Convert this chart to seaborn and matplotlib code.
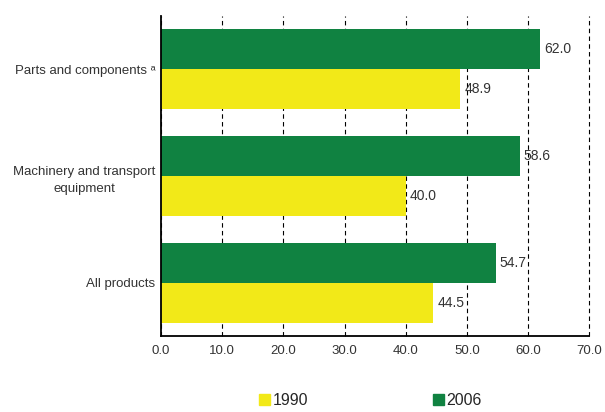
import pandas as pd
import numpy as np
import seaborn as sns
import matplotlib.pyplot as plt
from matplotlib.patches import Patch

# data
categories = ['Parts and components ᵃ', 'Machinery and transport\nequipment', 'All products']
vals_2006 = [62.0, 58.6, 54.7]
vals_1990 = [48.9, 40.0, 44.5]
years = ['2006', '1990']

df = pd.DataFrame({
    'Product': categories * 2,
    'Year': ['2006'] * 3 + ['1990'] * 3,
    'Share': vals_2006 + vals_1990,
})

sns.set_style('white')
plt.rcParams['font.family'] = ['Liberation Sans', 'DejaVu Sans']

fig, ax = plt.subplots(figsize=(6.05, 4.12), dpi=100)
fig.subplots_adjust(left=0.266, right=0.974, top=0.961, bottom=0.184)

pal = {'2006': '#108241', '1990': '#f2e918'}
sns.barplot(data=df, y='Product', x='Share', hue='Year', hue_order=years,
            palette=pal, orient='h', width=0.75, saturation=1, linewidth=0,
            ax=ax, legend=False)

# value labels
for cont in ax.containers:
    ax.bar_label(cont, fmt='%.1f', padding=3, fontsize=10, color='#333333')

ax.set_xlim(0, 70)
ax.set_ylim(2.5, -0.5)
ax.set_xticks(np.arange(0, 71, 10))
ax.set_xticklabels([f'{v:.1f}' for v in np.arange(0, 71, 10)], fontsize=9.5, color='#333333')
ax.grid(axis='x', color='black', linestyle=(0, (4, 3)), linewidth=0.8)
for gl in ax.get_xgridlines():
    gl.set_clip_on(False)
ax.set_axisbelow(True)

# category labels on minor ticks, tick marks at group borders
ax.set_yticks([-0.5, 0.5, 1.5, 2.5])
ax.set_yticklabels([])
ax.set_yticks([0, 1, 2], minor=True)
ax.set_yticklabels(categories, minor=True, fontsize=9.5, color='#333333',
                   ha='right', multialignment='center', linespacing=1.6)
ax.tick_params(axis='y', which='minor', length=0, pad=4)
ax.tick_params(axis='y', which='major', direction='out', length=4, width=1.2, color='black')
ax.tick_params(axis='x', direction='inout', length=6, width=1.2, color='black')

ax.set_xlabel('')
ax.set_ylabel('')
sns.despine(ax=ax)
for s in ['left', 'bottom']:
    ax.spines[s].set_color('black')
    ax.spines[s].set_linewidth(1.3)

handles = [Patch(color=pal['1990'], label='1990'), Patch(color=pal['2006'], label='2006')]
fig.legend(handles=handles, loc='lower center', ncol=2, frameon=False, fontsize=11.5,
           handlelength=0.7, handleheight=0.7, handletextpad=0.15, columnspacing=7.8,
           bbox_to_anchor=(0.612, -0.025))

fig.savefig('out.png', dpi=100)
